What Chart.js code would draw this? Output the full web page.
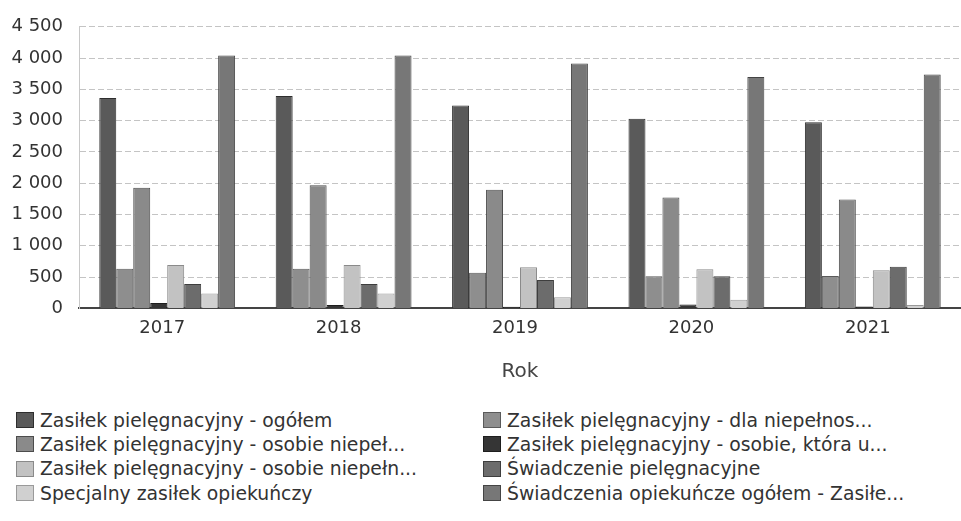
<!DOCTYPE html>
<html>
<head>
<meta charset="utf-8">
<script src="https://cdn.jsdelivr.net/npm/chart.js@4/dist/chart.umd.min.js"></script>
<style>
  html, body { margin: 0; padding: 0; background: #fff; }
  #wrap { position: relative; width: 961px; height: 521px; overflow: hidden; }
  #box { position: absolute; left: 0; top: 0; width: 961px; height: 395px; }
  #legend { position: absolute; left: 16px; top: 408px; width: 945px;
    display: grid; grid-template-columns: 467px 470px; row-gap: 0px;
    font-family: "DejaVu Sans", sans-serif; font-size: 18.8px; color: #333; }
  .li { display: flex; align-items: center; height: 24.3px; white-space: nowrap; }
  .sw { width: 18px; height: 16px; margin-right: 6px; box-sizing: border-box; border: 1px solid #444; }
</style>
</head>
<body>
<div id="wrap">
  <div id="box"><canvas id="c"></canvas></div>
  <div id="legend"></div>
</div>
<script>
const categories = ["2017", "2018", "2019", "2020", "2021"];
const seriesNames = [
  "Zasiłek pielęgnacyjny - ogółem",
  "Zasiłek pielęgnacyjny - dla niepełnos...",
  "Zasiłek pielęgnacyjny - osobie niepeł...",
  "Zasiłek pielęgnacyjny - osobie, która u...",
  "Zasiłek pielęgnacyjny -  osobie niepełn...",
  "Świadczenie pielęgnacyjne",
  "Specjalny zasiłek opiekuńczy",
  "Świadczenia opiekuńcze ogółem - Zasiłe..."
];
const zpOgolem      = [3364, 3396, 3242, 3029, 2976];
const zpDlaNiepeln  = [635, 635, 571, 514, 519];
const zpOsobieNiep  = [1928, 1966, 1896, 1774, 1742];
const zpOsobieKtora = [88, 55, 25, 61, 29];
const zpOsobieNiep2 = [694, 694, 657, 625, 609];
const swPielegn     = [391, 391, 455, 514, 667];
const specjalny     = [237, 237, 178, 140, 56];
const swOgolem      = [4040, 4040, 3912, 3699, 3737];
const yTicks = [0, 500, 1000, 1500, 2000, 2500, 3000, 3500, 4000, 4500];

const fills   = ["#5a5a5a", "#8e8e8e", "#8a8a8a", "#353535", "#c2c2c2", "#6c6c6c", "#d0d0d0", "#777777"];
const borders = ["#2e2e2e", "#5a5a5a", "#4c4c4c", "#1e1e1e", "#8a8a8a", "#3e3e3e", "#9a9a9a", "#444444"];
const seriesValues = [zpOgolem, zpDlaNiepeln, zpOsobieNiep, zpOsobieKtora, zpOsobieNiep2, swPielegn, specjalny, swOgolem];

const fmt = v => String(v).replace(/\B(?=(\d{3})+(?!\d))/g, " ");

const datasets = seriesNames.map((n, i) => ({
  label: n,
  data: seriesValues[i],
  backgroundColor: fills[i],
  borderColor: borders[i],
  borderWidth: 1,
  categoryPercentage: 0.77,
  barPercentage: 1.0
}));

new Chart(document.getElementById('c'), {
  type: 'bar',
  data: { labels: categories, datasets },
  options: {
    responsive: true,
    maintainAspectRatio: false,
    animation: false,
    layout: { padding: { left: 12, right: 0, top: 9, bottom: 11 } },
    plugins: { legend: { display: false }, tooltip: { enabled: false } },
    scales: {
      x: {
        grid: { display: false, drawTicks: false },
        border: { display: true, color: '#444', width: 2 },
        ticks: { padding: 9, labelOffset: -5, color: '#333', font: { family: 'DejaVu Sans', size: 18 } },
        title: { display: true, text: 'Rok', color: '#444', padding: { top: 12, bottom: 0 },
                 font: { family: 'DejaVu Sans', size: 20 } }
      },
      y: {
        min: 0, max: 4500,
        afterBuildTicks: axis => { axis.ticks = yTicks.map(v => ({ value: v })); },
        afterFit: axis => { axis.width = 67; },
        grid: { color: '#c4c4c4', drawTicks: false },
        border: { display: true, color: '#c8c8c8', dash: [6, 3] },
        ticks: { padding: 16, color: '#333', font: { family: 'DejaVu Sans', size: 18 },
                 callback: v => fmt(v) }
      }
    }
  }
});

const lg = document.getElementById('legend');
seriesNames.forEach((n, i) => {
  const d = document.createElement('div');
  d.className = 'li';
  const s = document.createElement('span');
  s.className = 'sw';
  s.style.background = fills[i];
  s.style.borderColor = borders[i];
  const t = document.createElement('span');
  t.textContent = n;
  d.appendChild(s); d.appendChild(t);
  lg.appendChild(d);
});
</script>
</body>
</html>
